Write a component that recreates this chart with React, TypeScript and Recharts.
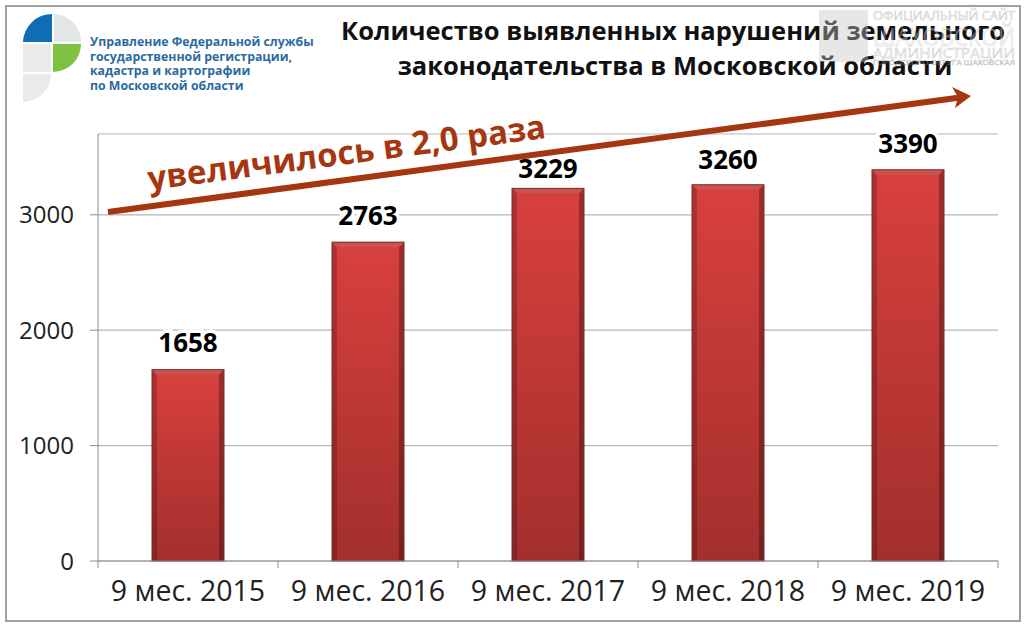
import { BarChart, Bar, XAxis, YAxis, CartesianGrid, LabelList } from "recharts"

const periods = ["9 мес. 2015", "9 мес. 2016", "9 мес. 2017", "9 мес. 2018", "9 мес. 2019"]
const violations = [1658, 2763, 3229, 3260, 3390]
const yTicks = [0, 1000, 2000, 3000]
// the 2017 label sits closer to its bar, under the arrow
const labelGaps = [18, 17, 10, 16, 17]

const titleLines = [
  "Количество выявленных нарушений земельного",
  "законодательства в Московской области",
]
const logoLines = [
  "Управление Федеральной службы",
  "государственной регистрации,",
  "кадастра и картографии",
  "по Московской области",
]
const watermarkLines = ["ОФИЦИАЛЬНЫЙ САЙТ", "ШАХОВСКОЙ", "АДМИНИСТРАЦИИ", "ГОРОДСКОГО ОКРУГА ШАХОВСКАЯ"]

const chartData = periods.map((period, i) => ({ period, value: violations[i] }))

const FONT = "'Open Sans', sans-serif"
const PLOT_WIDTH = 900
const BAND = PLOT_WIDTH / periods.length

function BevelBar({ x, y, width, height }: any) {
  const b = 5
  return (
    <g>
      <rect x={x} y={y} width={width} height={height} fill="url(#barFill)" />
      <polygon points={`${x},${y} ${x + width},${y} ${x + width - b},${y + b} ${x + b},${y + b}`} fill="#c9544f" />
      <polygon points={`${x},${y} ${x + b},${y + b} ${x + b},${y + height} ${x},${y + height}`} fill="#000" opacity={0.2} />
      <polygon points={`${x + width},${y} ${x + width - b},${y + b} ${x + width - b},${y + height} ${x + width},${y + height}`} fill="#000" opacity={0.28} />
      <rect x={x} y={y} width={width} height={height} fill="none" stroke="#7a2a2a" strokeWidth={1} />
    </g>
  )
}

// ticks of the reference sit between the categories, not under the bars
function PeriodTick({ x, y, payload, index }: any) {
  const left = x - BAND / 2
  return (
    <g>
      <line x1={left} y1={y} x2={left} y2={y + 7} stroke="#8c8c8c" />
      {index === periods.length - 1 && (
        <line x1={left + BAND} y1={y} x2={left + BAND} y2={y + 7} stroke="#8c8c8c" />
      )}
      <text x={x} y={y + 40} textAnchor="middle" fontSize={28.5} fill="#222" fontFamily={FONT}>
        {payload.value}
      </text>
    </g>
  )
}

function ValueLabel({ x, y, width, value, index }: any) {
  return (
    <text
      x={x + width / 2}
      y={y - labelGaps[index]}
      textAnchor="middle"
      fill="#000"
      fontSize={26}
      fontWeight={700}
      fontFamily={FONT}
      stroke="#fff"
      strokeWidth={7}
      style={{ paintOrder: "stroke" }}
    >
      {value}
    </text>
  )
}

export default function App() {
  return (
    <div style={{ position: "absolute", left: 0, top: 0, width: 1024, height: 627, background: "#fff" }}>
      <div style={{ position: "absolute", left: 5, top: 5, width: 1012, height: 613, border: "2px solid #a0a0a0" }} />
      <svg width={1024} height={627} style={{ position: "absolute", left: 0, top: 0 }}>
        <defs>
          <linearGradient id="barFill" x1="0" y1="0" x2="0" y2="1">
            <stop offset="0%" stopColor="#d8403e" />
            <stop offset="100%" stopColor="#a32f2d" />
          </linearGradient>
        </defs>
      </svg>
      <div style={{ position: "absolute", left: 0, top: 0 }}>
        <BarChart
          width={1024}
          height={627}
          data={chartData}
          margin={{ top: 134, right: 26, bottom: 0, left: 0 }}
          barCategoryGap="30%"
        >
          <CartesianGrid vertical={false} stroke="#b5b5b5" strokeWidth={1.2} />
          <XAxis
            dataKey="period"
            height={66}
            axisLine={{ stroke: "#8c8c8c" }}
            tickLine={false}
            tickSize={0}
            tickMargin={0}
            interval={0}
            tick={<PeriodTick />}
          />
          <YAxis
            width={98}
            domain={[0, 3700]}
            ticks={yTicks}
            axisLine={{ stroke: "#8c8c8c" }}
            tickLine={{ stroke: "#8c8c8c" }}
            tickSize={8}
            tickMargin={16}
            tick={{ fontSize: 24, fill: "#222", fontFamily: FONT }}
          />
          <Bar dataKey="value" isAnimationActive={false} shape={<BevelBar />}>
            <LabelList dataKey="value" content={<ValueLabel />} />
          </Bar>
        </BarChart>
      </div>
      <svg width={1024} height={627} style={{ position: "absolute", left: 0, top: 0 }}>
        <path d="M52 14 A29 29 0 0 0 23 42 L52 42 Z" fill="#0f6db3" />
        <path d="M54 14 A28 28 0 0 1 81 42 L54 42 Z" fill="#e3e6e6" />
        <path d="M53 44 L81 44 A28 28 0 0 1 53 72 Z" fill="#7fc241" />
        <rect x={23} y={44} width={28} height={28} fill="#e9ebeb" />
        <path d="M23 74 L51 74 A28 28 0 0 1 23 102 Z" fill="#e9ebeb" />
        {logoLines.map((line, i) => (
          <text key={line} x={90} y={46 + i * 14.6} fontSize={12.3} fontWeight={700} fill="#2b6aa0" fontFamily={FONT}>{line}</text>
        ))}
        {titleLines.map((line, i) => (
          <text key={line} x={[673, 675][i]} y={[40, 75][i]} textAnchor="middle" fontSize={25.5} fontWeight={700} fill="#111" fontFamily={FONT}>{line}</text>
        ))}
        <g opacity={0.4}>
          <rect x={819} y={10} width={49} height={52} fill="#c4c4c4" />
          {watermarkLines.map((line, i) => (
            <text
              key={line}
              x={873}
              y={[20, 46, 58, 65][i]}
              textLength={142}
              lengthAdjust="spacingAndGlyphs"
              fontSize={[12, 26, 14, 7][i]}
              fill="#fff"
              stroke="#777"
              strokeWidth={0.5}
              fontFamily={FONT}
            >
              {line}
            </text>
          ))}
        </g>
        <line x1={108} y1={212} x2={960} y2={97.5} stroke="#a5360f" strokeWidth={6} />
        <path d="M952 87 L971 96 L955 108 L958 97 Z" fill="#a5360f" />
        <text transform="translate(348,164) rotate(-7.5)" textAnchor="middle" fontSize={33} fontWeight={700} fill="#a5360f" fontFamily={FONT}>увеличилось в 2,0 раза</text>
      </svg>
    </div>
  )
}
